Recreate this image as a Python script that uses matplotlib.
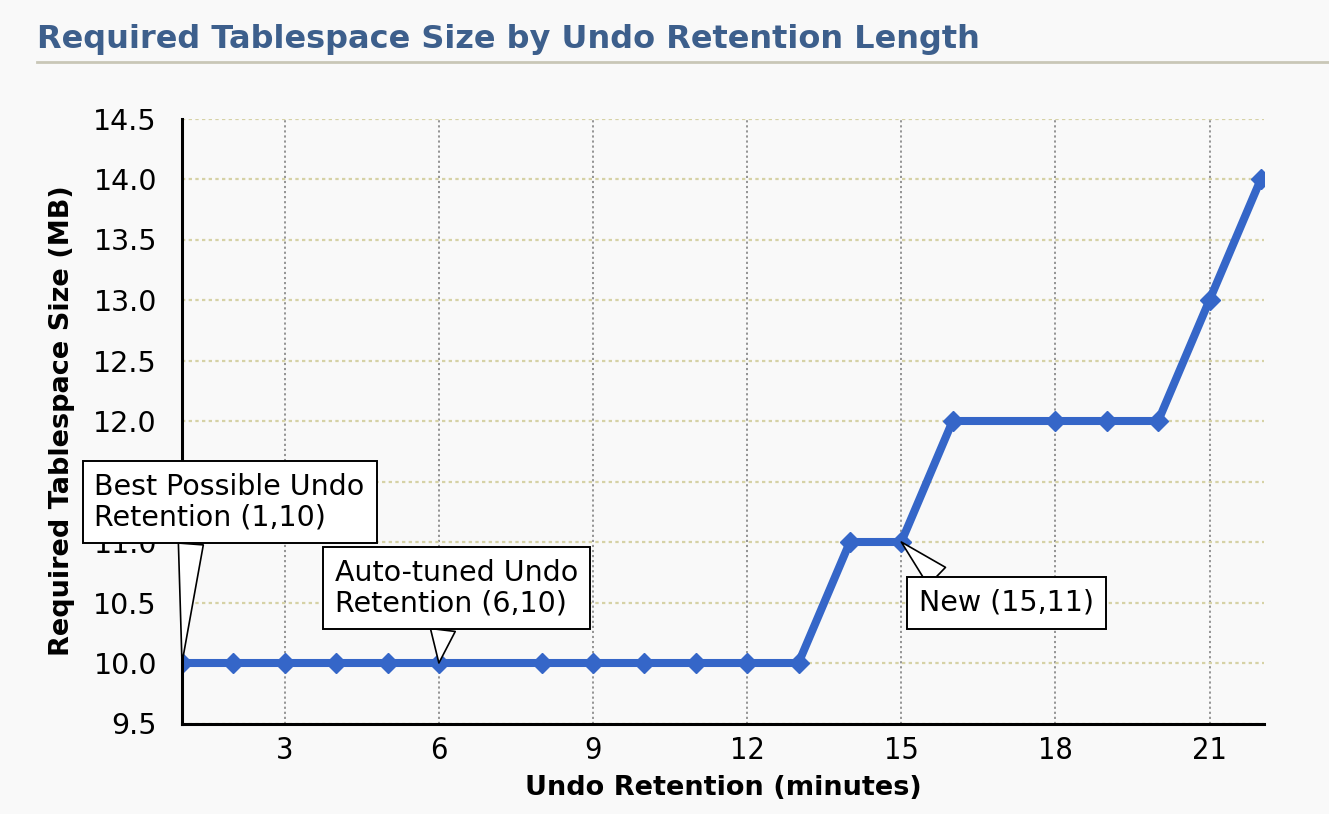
import matplotlib
matplotlib.use("Agg")
import matplotlib.pyplot as plt
from matplotlib.lines import Line2D

# ---- data ----
retention_min = [1, 2, 3, 4, 5, 6, 7, 8, 9, 10, 11, 12, 13, 14, 15, 16, 17, 18, 19, 20, 21, 22]
size_mb = [10, 10, 10, 10, 10, 10, 10, 10, 10, 10, 10, 10, 10, 11, 11, 12, 12, 12, 12, 12, 13, 14]
unmarked_points = [7, 17]
x_ticks = [3, 6, 9, 12, 15, 18, 21]
y_ticks = [9.5, 10.0, 10.5, 11.0, 11.5, 12.0, 12.5, 13.0, 13.5, 14.0, 14.5]
annotations = [
    ("Best Possible Undo\nRetention (1,10)", 1, 10),
    ("Auto-tuned Undo\nRetention (6,10)", 6, 10),
    ("New (15,11)", 15, 11),
]

title = "Required Tablespace Size by Undo Retention Length"
xlabel = "Undo Retention (minutes)"
ylabel = "Required Tablespace Size (MB)"

BG = "#f9f9f9"
LINE = "#3566c8"

fig = plt.figure(figsize=(13.29, 8.14), dpi=100, facecolor=BG)
ax = fig.add_axes([182 / 1329, 1 - 723.5 / 814, (1264 - 182) / 1329, (723.5 - 118.5) / 814])
ax.set_facecolor(BG)

markevery = [v not in unmarked_points for v in retention_min]
ax.plot(retention_min, size_mb, color=LINE, lw=5.8, marker="D", ms=10,
        markevery=markevery, solid_joinstyle="miter", zorder=3)

ax.set_xlim(1, 22.06)
ax.set_ylim(9.5, 14.5)
ax.set_xticks(x_ticks)
ax.set_xticklabels([str(t) for t in x_ticks])
ax.set_yticks(y_ticks)
ax.set_yticklabels([f"{t:.1f}" for t in y_ticks])
ax.tick_params(axis="both", length=0)
ax.tick_params(axis="y", pad=18, labelsize=20.5)
ax.tick_params(axis="x", pad=9, labelsize=22)
for lab in ax.get_xticklabels():
    lab.set_fontstretch("condensed")

ax.grid(False)
for t in x_ticks:
    ax.axvline(t, color="#8c8c8c", lw=1.3, ls=(0, (1.2, 1.6)), zorder=1)
for t in y_ticks:
    ax.axhline(t, color="#d6d2a6", lw=1.6, ls=(0, (1.5, 1.5)), zorder=1)

for s in ["top", "right"]:
    ax.spines[s].set_visible(False)
for s in ["left", "bottom"]:
    ax.spines[s].set_linewidth(2.2)
    ax.spines[s].set_color("black")
    ax.spines[s].set_zorder(4)

ax.set_xlabel(xlabel, fontsize=19.5, fontweight="bold")
ax.set_ylabel(ylabel, fontsize=19.5, fontweight="bold")
ax.xaxis.set_label_coords(0.5, -0.085)
ax.yaxis.set_label_coords(-0.099, 0.5)

# annotation layout (pixel offsets from the target point, wedge anchor on box)
offsets = [(-87.5, 161), (-104, 75), (18, -61)]
relpos = [(0.36, 0.0), (0.45, 0.0), (0.175, 1.0)]
for (txt, px, py), (dx, dy), rp in zip(annotations, offsets, relpos):
    ax.annotate(txt, xy=(px, py), xytext=(dx, dy), textcoords="offset pixels",
                ha="left", va="center", fontsize=20.5, linespacing=1.12,
                family="DejaVu Sans", zorder=10, annotation_clip=False,
                bbox=dict(boxstyle="square,pad=0.42", fc="white", ec="black", lw=1.4),
                arrowprops=dict(arrowstyle="wedge,tail_width=0.9,shrink_factor=0.5",
                                fc="white", ec="black", lw=1.2, relpos=rp,
                                shrinkA=0, shrinkB=0, mutation_scale=20))

fig.text(37 / 1329, 1 - 48 / 814, title, fontsize=23, fontweight="bold",
         color="#3d5f8c", ha="left", va="baseline")
fig.add_artist(Line2D([37 / 1329, 1.0], [1 - 62 / 814, 1 - 62 / 814],
                      transform=fig.transFigure, color="#c9c7b7", lw=2))

fig.savefig("out.png", dpi=100, facecolor=BG)
